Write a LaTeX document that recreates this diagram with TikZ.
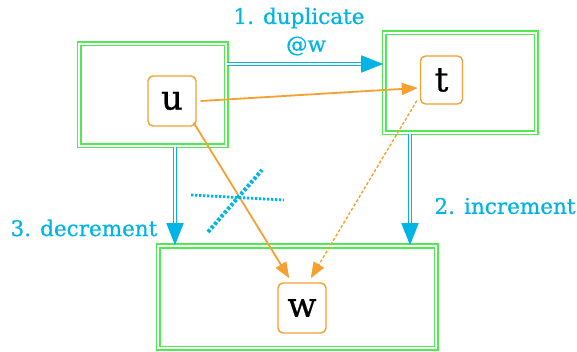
\documentclass[tikz,border=0pt]{standalone}
\usepackage{fontspec}
\setmainfont[FakeBold=0.7]{DejaVu Serif}
\usetikzlibrary{arrows.meta,calc}
\definecolor{skyblue}{HTML}{00B4E6}
\definecolor{amber}{HTML}{F5A030}
\definecolor{leaf}{HTML}{52EA52}
\tikzset{
  frame/.style={draw=leaf, double=white, double distance=1.8pt, line width=1.6pt, inner sep=0pt},
  var/.style={draw=amber, rounded corners=5pt, line width=1.4pt, minimum width=48pt, minimum height=50pt, font=\fontsize{34}{34}\selectfont, text=black},
  flow/.style={draw=skyblue, double=white, double distance=1.4pt, line width=1.6pt, -{Triangle[length=22pt,width=17pt]}},
  ref/.style={draw=amber, line width=1.8pt, -{Triangle[length=16pt,width=12pt]}},
  note/.style={text=skyblue, font=\fontsize{21.5}{23}\selectfont, align=center},
}
\begin{document}
\begin{tikzpicture}[x=1pt, y=-1pt]
\useasboundingbox (0,0) rectangle (577,352);

% scope frames
\node[frame, minimum width=147pt, minimum height=102pt] (boxU) at (152.5,95) {};
\node[frame, minimum width=152pt, minimum height=100pt] (boxT) at (460,83) {};
\node[frame, minimum width=278pt, minimum height=102pt] (boxW) at (297,297) {};

% variables
\node[var] (u) at (172,101) {u};
\node[var, minimum width=42pt, minimum height=48pt] (t) at (441.5,80) {t};
\node[var] (w) at (302,308) {w};

% operations between frames
\coordinate (dupy) at (0,64);
\coordinate (incx) at (410,0);
\coordinate (decx) at (175,0);
\draw[flow] (boxU.east |- dupy) -- (boxT.west |- dupy);
\draw[flow] (boxT.south -| incx) -- (boxW.north -| incx);
\draw[flow] (boxU.south -| decx) -- (boxW.north -| decx);

\node[note] (dup) at (299,18) {1. duplicate};
\node[note] (at) at (306,46) {@w};
\node[note] (inc) at (505,206) {2. increment};
\node[note] (dec) at (84,228) {3. decrement};

% references
\draw[ref] ($(u.east)+(4,0)$) -- ($(t.west)+(-2,8)$);
\draw[ref] ($(u.south east)+(-3,-4)$) -- ($(w.north west)+(12,-4)$);
\draw[ref, line width=1.4pt, dash pattern=on 3pt off 2pt] ($(t.south west)+(-3,-4)$) -- ($(w.north east)+(-16,-4)$);

% crossed-out reference
\coordinate (c1) at (208,232);
\coordinate (c2) at (262,170);
\coordinate (c3) at (191,195);
\coordinate (c4) at (284,200);
\draw[skyblue, line width=4pt, dash pattern=on 3pt off 2pt] (c1) -- (c2);
\draw[skyblue, line width=2.8pt, dash pattern=on 2.5pt off 1.5pt] (c3) -- (c4);
\end{tikzpicture}
\end{document}
